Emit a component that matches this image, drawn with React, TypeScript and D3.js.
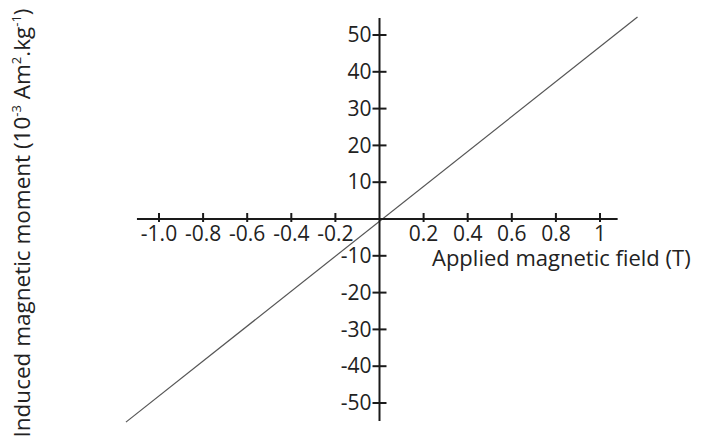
import * as d3 from 'd3';

// tick values
const xTicks = [-1.0, -0.8, -0.6, -0.4, -0.2, 0.2, 0.4, 0.6, 0.8, 1];
const xTickLabels = ['-1.0', '-0.8', '-0.6', '-0.4', '-0.2', '0.2', '0.4', '0.6', '0.8', '1'];
const yTicks = [50, 40, 30, 20, 10, -10, -20, -30, -40, -50];
const yTickLabels = ['50', '40', '30', '20', '10', '-10', '-20', '-30', '-40', '-50'];

// axis extents (data units)
const xAxisExtent = [-1.1, 1.08];
const yAxisExtent = [-54.9, 54.6];

// the measured line (field in T, moment in 10^-3 Am2/kg)
const fieldT = [-1.15, 1.17];
const moment = [-55.2, 54.9];

const font = '"Open Sans", sans-serif';

export default function App() {
  const width = 707;
  const height = 446;

  const x = d3.scaleLinear().domain([-1, 1]).range([159, 600]);
  const y = d3.scaleLinear().domain([-50, 50]).range([403, 35]);

  const x0 = x(0);
  const y0 = y(0);

  const line = d3
    .line<number>()
    .x((d) => x(d))
    .y((_d, i) => y(moment[i]));

  return (
    <svg
      width={width}
      height={height}
      style={{ position: 'absolute', left: 0, top: 0, background: '#fff' }}
      fontFamily={font}
    >
      {/* data line */}
      <path d={line(fieldT) ?? ''} fill="none" stroke="#555" strokeWidth={1.2} />

      {/* x axis */}
      <line x1={x(xAxisExtent[0])} x2={x(xAxisExtent[1])} y1={y0} y2={y0} stroke="#1a1a1a" strokeWidth={2} />
      {xTicks.map((t, i) => (
        <g key={'xt' + i}>
          <line x1={x(t)} x2={x(t)} y1={y0 - 6} y2={y0 + 3} stroke="#1a1a1a" strokeWidth={2} />
          <text x={x(t)} y={y0 + 22} textAnchor="middle" fontSize={21} fill="#222">
            {xTickLabels[i]}
          </text>
        </g>
      ))}
      <text x={432} y={266} fontSize={22} fill="#222">
        Applied magnetic field (T)
      </text>

      {/* y axis */}
      <line x1={x0} x2={x0} y1={y(yAxisExtent[1])} y2={y(yAxisExtent[0])} stroke="#1a1a1a" strokeWidth={2} />
      {yTicks.map((t, i) => (
        <g key={'yt' + i}>
          <line x1={x0 - 7} x2={x0 + 7} y1={y(t)} y2={y(t)} stroke="#1a1a1a" strokeWidth={2} />
          <text x={x0 - 8} y={y(t) + 1.5} textAnchor="end" dominantBaseline="middle" fontSize={21} fill="#222">
            {yTickLabels[i]}
          </text>
        </g>
      ))}
      <text
        transform="translate(30,223) rotate(-90)"
        textAnchor="middle"
        fontSize={22.5}
        fill="#222"
      >
        Induced magnetic moment  (10
        <tspan fontSize={13} dy={-9}>-3</tspan>
        <tspan dy={9}> Am</tspan>
        <tspan fontSize={13} dy={-9}>2</tspan>
        <tspan dy={9}>.kg</tspan>
        <tspan fontSize={13} dy={-9}>-1</tspan>
        <tspan dy={9}>)</tspan>
      </text>
    </svg>
  );
}
